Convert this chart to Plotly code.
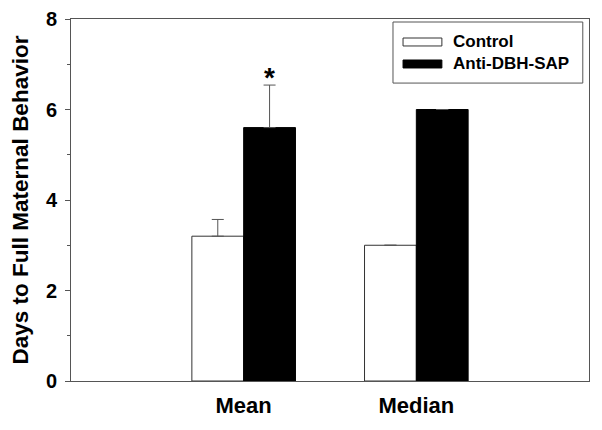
import plotly.graph_objects as go

categories = ["Mean", "Median"]
control = [3.2, 3.0]
control_err = [0.37, None]
anti = [5.6, 6.0]
anti_err = [0.94, None]
series_names = ["Control", "Anti-DBH-SAP"]
y_title = "Days to Full Maternal Behavior"
y_ticks = [0, 2, 4, 6, 8]

FONT = "Liberation Sans, Arial, sans-serif"
BAR_W = 0.3

fig = go.Figure()
fig.add_trace(go.Bar(
    x=categories, y=control, name=series_names[0], width=BAR_W,
    marker=dict(color="white", line=dict(color="#333333", width=1)),
    error_y=dict(type="data", array=control_err, symmetric=False, arrayminus=[0, 0],
                 color="#555555", thickness=1, width=6, visible=True),
    showlegend=False,
))
fig.add_trace(go.Bar(
    x=categories, y=anti, name=series_names[1], width=BAR_W,
    marker=dict(color="black", line=dict(color="black", width=1)),
    error_y=dict(type="data", array=anti_err, symmetric=False, arrayminus=[0, 0],
                 color="#555555", thickness=1, width=6, visible=True),
    showlegend=False,
))

# significance asterisk above Anti-DBH-SAP mean bar
fig.add_annotation(x=BAR_W / 2, y=anti[0] + anti_err[0], xref="x", yref="y",
                   text="<b>*</b>", showarrow=False, yanchor="bottom", yshift=-10,
                   font=dict(family=FONT, size=28, color="black"))

# custom legend
fig.add_shape(type="rect", xref="paper", yref="paper", x0=0.6216, x1=0.988, y0=0.823, y1=0.9917,
              line=dict(color="#555555", width=1), fillcolor="white")
legend_rows = [(0.9365, "white", "#333333"), (0.8757, "black", "black")]
for (yc, fill, lc), name in zip(legend_rows, series_names):
    fig.add_shape(type="rect", xref="paper", yref="paper", x0=0.641, x1=0.716,
                  y0=yc - 0.011, y1=yc + 0.011, line=dict(color=lc, width=1), fillcolor=fill)
    fig.add_annotation(x=0.734, y=yc, xref="paper", yref="paper", text="<b>%s</b>" % name,
                       showarrow=False, xanchor="left", yanchor="middle",
                       font=dict(family=FONT, size=17, color="black"))

fig.update_layout(
    width=594, height=422,
    margin=dict(l=63, r=13, t=11, b=49, autoexpand=False),
    paper_bgcolor="white", plot_bgcolor="white",
    barmode="group", bargap=0.4, bargroupgap=0,
    font=dict(family=FONT, color="black"),
    xaxis=dict(type="category", range=[-1, 2], showline=True, linecolor="#555555", linewidth=1,
               mirror=True, ticks="", showgrid=False, zeroline=False, automargin=False,
               ticklabelstandoff=5,
               tickfont=dict(family=FONT, size=22, color="black")),
    yaxis=dict(range=[0, 8], tickvals=y_ticks, ticktext=["<b>%d</b>" % v for v in y_ticks],
               showline=True, linecolor="#555555", linewidth=1, mirror=True, automargin=False,
               ticks="outside", ticklen=5, tickcolor="#555555", showgrid=False, zeroline=False,
               minor=dict(dtick=1, ticks="outside", ticklen=3, tickcolor="#555555"),
               ticklabelstandoff=4,
               tickfont=dict(family=FONT, size=20, color="black"),
               title=dict(text="<b>%s</b>" % y_title, font=dict(family=FONT, size=22.5, color="black"),
                          standoff=12)),
)
fig.update_xaxes(ticktext=["<b>%s</b>" % c for c in categories], tickvals=categories)

fig.write_html("out.html")
